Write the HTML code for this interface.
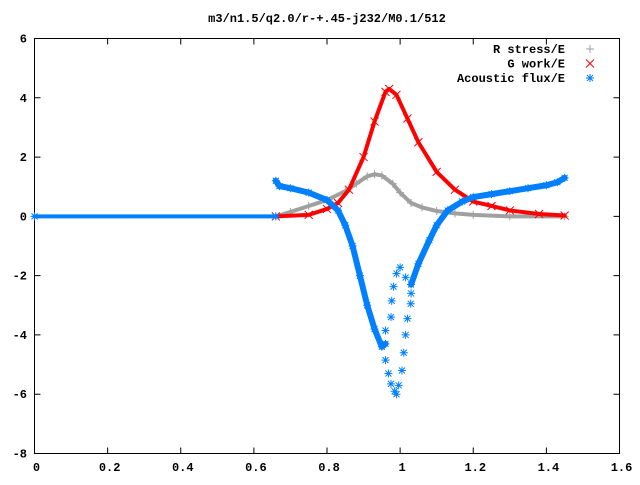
<!DOCTYPE html>
<html><head><meta charset="utf-8"><style>
body{margin:0;background:#fff}
svg text{font-family:"Liberation Mono","DejaVu Sans Mono",monospace;font-weight:bold;font-size:12px;fill:#000}
</style></head><body>
<svg id="chart" width="640" height="480" xmlns="http://www.w3.org/2000/svg">
<rect width="640" height="480" fill="#fff"/>
<text x="327" y="22" text-anchor="middle">m3/n1.5/q2.0/r-+.45-j232/M0.1/512</text>
<g id="axes"></g>
<g id="series"></g>
<g id="legend"></g>
</svg>
<script>
const xTicks=[0,0.2,0.4,0.6,0.8,1,1.2,1.4,1.6];
const xTickLabels=["0","0.2","0.4","0.6","0.8","1","1.2","1.4","1.6"];
const yTicks=[-8,-6,-4,-2,0,2,4,6];
const yTickLabels=["-8","-6","-4","-2","0","2","4","6"];
const grayPts=[[0.66,0],[0.7,0.15],[0.75,0.35],[0.8,0.55],[0.85,0.85],[0.88,1.1],[0.91,1.35],[0.93,1.42],[0.95,1.38],[0.98,1.1],[1.0,0.8],[1.03,0.45],[1.06,0.3],[1.1,0.18],[1.15,0.1],[1.2,0.05],[1.3,0.0],[1.45,0]];
const redPts=[[0.66,0],[0.75,0.05],[0.8,0.25],[0.83,0.45],[0.86,0.9],[0.9,2.0],[0.93,3.2],[0.96,4.2],[0.97,4.3],[0.99,4.1],[1.02,3.3],[1.05,2.5],[1.1,1.5],[1.15,0.9],[1.2,0.5],[1.25,0.35],[1.3,0.2],[1.38,0.08],[1.45,0.03]];
const blueFlat=[[0,0],[0.66,0]];
const blueMain=[[0.66,1.2],[0.67,1.02],[0.7,0.95],[0.75,0.8],[0.8,0.55],[0.83,0.2],[0.85,-0.3],[0.87,-1.0],[0.89,-2.0],[0.91,-3.0],[0.93,-3.8],[0.95,-4.4],[0.96,-4.3]];
const blueSparse=[[0.96,-3.85],[0.975,-3.4],[0.977,-2.85],[0.982,-2.37],[0.99,-1.93],[1.0,-1.72],[1.015,-2.06],[0.96,-4.85],[0.968,-5.3],[0.975,-5.65],[0.985,-5.9],[0.99,-6.0],[0.996,-5.7],[1.005,-5.2],[1.01,-4.6],[1.015,-4.0],[1.02,-3.45],[1.029,-2.95],[1.03,-2.6]];
const blueRight=[[1.03,-2.3],[1.05,-1.6],[1.08,-0.8],[1.1,-0.3],[1.13,0.2],[1.17,0.5],[1.2,0.65],[1.25,0.75],[1.3,0.85],[1.35,0.95],[1.4,1.05],[1.43,1.15],[1.45,1.3]];

const L=34.5,R=619.5,T=38.5,B=453.5;
const X=v=>L+(v-0)/1.6*(R-L);
const Y=v=>B-(v+8)/14*(B-T);
const NS="http://www.w3.org/2000/svg";
function mk(tag,attrs,parent){const e=document.createElementNS(NS,tag);for(const k in attrs)e.setAttribute(k,attrs[k]);parent.appendChild(e);return e;}
const axes=document.getElementById('axes'),series=document.getElementById('series'),legend=document.getElementById('legend');
const frame=mk('rect',{x:L,y:T,width:R-L,height:B-T,fill:'none',stroke:'#000','stroke-width':1},axes);


xTicks.forEach((t,i)=>{
  const x=X(t);
  if(i>0&&i<xTicks.length-1){
    const a=mk('path',{d:`M${x},${B}v-6M${x},${T}v6`,stroke:'#000'},axes);
    
    
  }
  const tx=mk('text',{x:x+2,y:471,'text-anchor':'middle'},axes);tx.textContent=xTickLabels[i];
  
  
});
yTicks.forEach((t,i)=>{
  const y=Y(t);
  if(i>0&&i<yTicks.length-1){
    const a=mk('path',{d:`M${L},${y}h6M${R},${y}h-6`,stroke:'#000'},axes);
    
    
  }
  const tx=mk('text',{x:27,y:y+4,'text-anchor':'end'},axes);tx.textContent=yTickLabels[i];
  
  
});
function marker(type,x,y,col,parent){
  let d;
  if(type==='plus')d=`M${x-4},${y}h8M${x},${y-4}v8`;
  else if(type==='cross')d=`M${x-4},${y-4}l8,8M${x-4},${y+4}l8,-8`;
  else d=`M${x-4},${y}h8M${x},${y-4}v8M${x-3},${y-3}l6,6M${x-3},${y+3}l6,-6`;
  return mk('path',{d:d,stroke:col,'stroke-width':1,fill:'none'},parent);
}
function drawSeries(pts,col,type,w,name,band){
  const g=mk('g',{},series);
  
  
  if(band){
    const pl=mk('polyline',{points:pts.map(p=>X(p[0])+','+Y(p[1])).join(' '),fill:'none',stroke:col,'stroke-width':w,'stroke-linejoin':'round','stroke-linecap':'round'},g);
    
    
  }
  pts.forEach(p=>{const m=marker(type,X(p[0]),Y(p[1]),col,g);
    
    });
}
drawSeries(grayPts,'#a0a0a0','plus',4,'r-stress-series',true);
drawSeries(redPts,'#ff0000','cross',4,'g-work-series',true);
drawSeries(blueFlat,'#0080ff','star',4,'acoustic-flux-flat',true);
drawSeries(blueMain,'#0080ff','star',6,'acoustic-flux-left',true);
drawSeries(blueSparse,'#0080ff','star',0,'acoustic-flux-sparse',false);
drawSeries(blueRight,'#0080ff','star',6,'acoustic-flux-right',true);
const items=[["R stress/E",'#a0a0a0','plus'],["G work/E",'#ff0000','cross'],["Acoustic flux/E",'#0080ff','star']];
items.forEach((it,i)=>{
  const y=49+i*14.5;
  const g=mk('g',{},legend);
  
  
  const t=mk('text',{x:565,y:y+4,'text-anchor':'end'},g);t.textContent=it[0];
  marker(it[2],590,y,it[1],g);
});
</script>
</body></html>
